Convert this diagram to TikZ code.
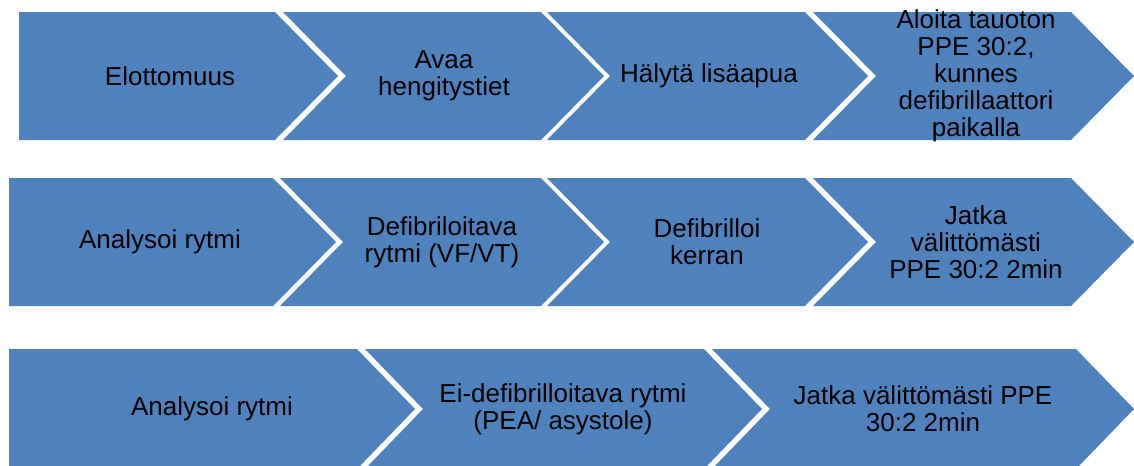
\documentclass[tikz,border=0pt]{standalone}
\usepackage{fontspec}
\setmainfont{Liberation Sans}
\usepackage{xcolor}
\usepackage{tikz}
\usetikzlibrary{positioning}
\usetikzlibrary{calc}
\definecolor{chevblue}{HTML}{4F81BD}
\tikzset{
  chev/.style={fill=chevblue, draw=none},
  steptext/.style={align=center, inner sep=0pt, text=black,
    font=\fontsize{19.5pt}{20.25pt}\selectfont}
}
\begin{document}
\begin{tikzpicture}[x=0.75pt, y=-0.75pt]
\useasboundingbox (0,0) rectangle (1134,465);
%%%%%%%%%%%%%% first row
\fill[chev] (19,12) -- (275,12) -- (338,76) -- (275,140) -- (19,140) -- cycle;
\fill[chev] (283,12) -- (541,12) -- (604,76) -- (541,140) -- (283,140) -- (346,76) -- cycle;
\fill[chev] (547,12) -- (805,12) -- (868,76) -- (805,140) -- (547,140) -- (610,76) -- cycle;
\fill[chev] (813,12) -- (1071,12) -- (1134,76) -- (1071,140) -- (813,140) -- (876,76) -- cycle;
\node[steptext] (t11) at (170,76) {Elottomuus};
\node[steptext] (t12) at (444,76) {Avaa\\hengitystiet};
\node[steptext] (t13) at (709,76) {Hälytä lisäapua};
\node[steptext] (t14) at (976,76) {Aloita tauoton\\PPE 30:2,\\kunnes\\defibrillaattori\\paikalla};
%%%%%%%%%%%%%% second row
\fill[chev] (9,178) -- (273,178) -- (336,242) -- (273,306) -- (9,306) -- cycle;
\fill[chev] (280,178) -- (541,178) -- (604,242) -- (541,306) -- (280,306) -- (343,242) -- cycle;
\fill[chev] (547,178) -- (805,178) -- (868,242) -- (805,306) -- (547,306) -- (610,242) -- cycle;
\fill[chev] (813,178) -- (1071,178) -- (1134,242) -- (1071,306) -- (813,306) -- (876,242) -- cycle;
\node[steptext] (t21) at (160,242) {Analysoi rytmi};
\node[steptext] (t22) at (442,242) {Defibriloitava\\rytmi (VF/VT)};
\node[steptext] (t23) at (707,242) {Defibrilloi\\kerran};
\node[steptext] (t24) at (976,242) {Jatka\\välittömästi\\PPE 30:2 2min};
%%%%%%%%%%%%%% third row
\fill[chev] (9,349) -- (357,349) -- (415,409) -- (357,469) -- (9,469) -- cycle;
\fill[chev] (365,349) -- (704,349) -- (762,409) -- (704,469) -- (365,469) -- (423,409) -- cycle;
\fill[chev] (712,349) -- (1076,349) -- (1134,409) -- (1076,469) -- (712,469) -- (770,409) -- cycle;
\node[steptext] (t31) at (212,409) {Analysoi rytmi};
\node[steptext] (t32) at (563,409) {Ei-defibrilloitava rytmi\\(PEA/ asystole)};
\node[steptext] (t33) at (923,409) {Jatka välittömästi PPE\\30:2 2min};
\end{tikzpicture}
\end{document}
